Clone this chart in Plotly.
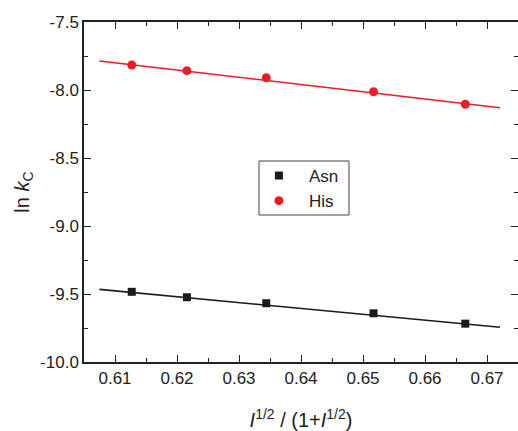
import plotly.graph_objects as go

# Data
x_vals = [0.6127, 0.6216, 0.6344, 0.6517, 0.6665]
asn_y = [-9.484, -9.524, -9.568, -9.642, -9.718]
his_y = [-7.816, -7.858, -7.910, -8.013, -8.105]

fit_x = [0.6075, 0.6721]
asn_fit_y = [-9.466, -9.745]
his_fit_y = [-7.787, -8.130]

x_ticks = [0.61, 0.62, 0.63, 0.64, 0.65, 0.66, 0.67]
y_ticks = [-10.0, -9.5, -9.0, -8.5, -8.0, -7.5]

RED = "#ee1c25"
BLACK = "#1a1a1a"
FONT = "Liberation Sans, Arial, sans-serif"

fig = go.Figure()
fig.add_trace(go.Scatter(x=fit_x, y=asn_fit_y, mode="lines",
                         line=dict(color=BLACK, width=1.6), showlegend=False, hoverinfo="skip"))
fig.add_trace(go.Scatter(x=fit_x, y=his_fit_y, mode="lines",
                         line=dict(color=RED, width=1.6), showlegend=False, hoverinfo="skip"))
fig.add_trace(go.Scatter(x=x_vals, y=asn_y, mode="markers", name="Asn",
                         marker=dict(symbol="square", size=8, color=BLACK)))
fig.add_trace(go.Scatter(x=x_vals, y=his_y, mode="markers", name="His",
                         marker=dict(symbol="circle", size=9, color=RED)))

axis_common = dict(
    showline=True, linecolor="#222222", linewidth=1.5, mirror="ticks",
    ticks="inside", ticklen=7, tickwidth=1.3, tickcolor="#222222",
    showgrid=False, zeroline=False, automargin=False,
    tickfont=dict(family=FONT, size=17, color="#222222"),
    minor=dict(ticks="inside", ticklen=4, tickwidth=1.3, tickcolor="#222222", showgrid=False),
)

fig.update_xaxes(range=[0.605, 0.675], tickvals=x_ticks,
                 ticktext=[f"{v:.2f}" for v in x_ticks],
                 minor_dtick=0.005, minor_tick0=0.605,
                 title=dict(text="<i>I</i><sup>1/2</sup> / (1+<i>I</i><sup>1/2</sup>)",
                            font=dict(family=FONT, size=20, color="#222222"), standoff=27),
                 **axis_common)
fig.update_yaxes(range=[-10.0, -7.5], tickvals=y_ticks,
                 ticktext=[f"{v:.1f}" for v in y_ticks],
                 minor_dtick=0.25, minor_tick0=-10.0,
                 title=dict(text="ln <i>k</i><sub>C</sub>",
                            font=dict(family=FONT, size=20, color="#222222"), standoff=5),
                 **axis_common)

# legend frame
fig.add_shape(type="rect", xref="paper", yref="paper",
              x0=0.4032, x1=0.6106, y0=0.4324, y1=0.5912,
              line=dict(color="#444444", width=1), fillcolor="rgba(0,0,0,0)", layer="above")

fig.update_layout(
    width=518, height=431,
    margin=dict(l=84, r=0, t=22, b=69),
    plot_bgcolor="white", paper_bgcolor="white",
    legend=dict(x=0.380, y=0.600, xanchor="left", yanchor="top", itemwidth=50,
                bgcolor="rgba(0,0,0,0)", borderwidth=0,
                font=dict(family=FONT, size=17, color="#222222")),
)

fig.write_html("out.html", config={"displayModeBar": False},
               post_script="document.body.style.margin='0px';document.body.style.overflow='hidden';")
